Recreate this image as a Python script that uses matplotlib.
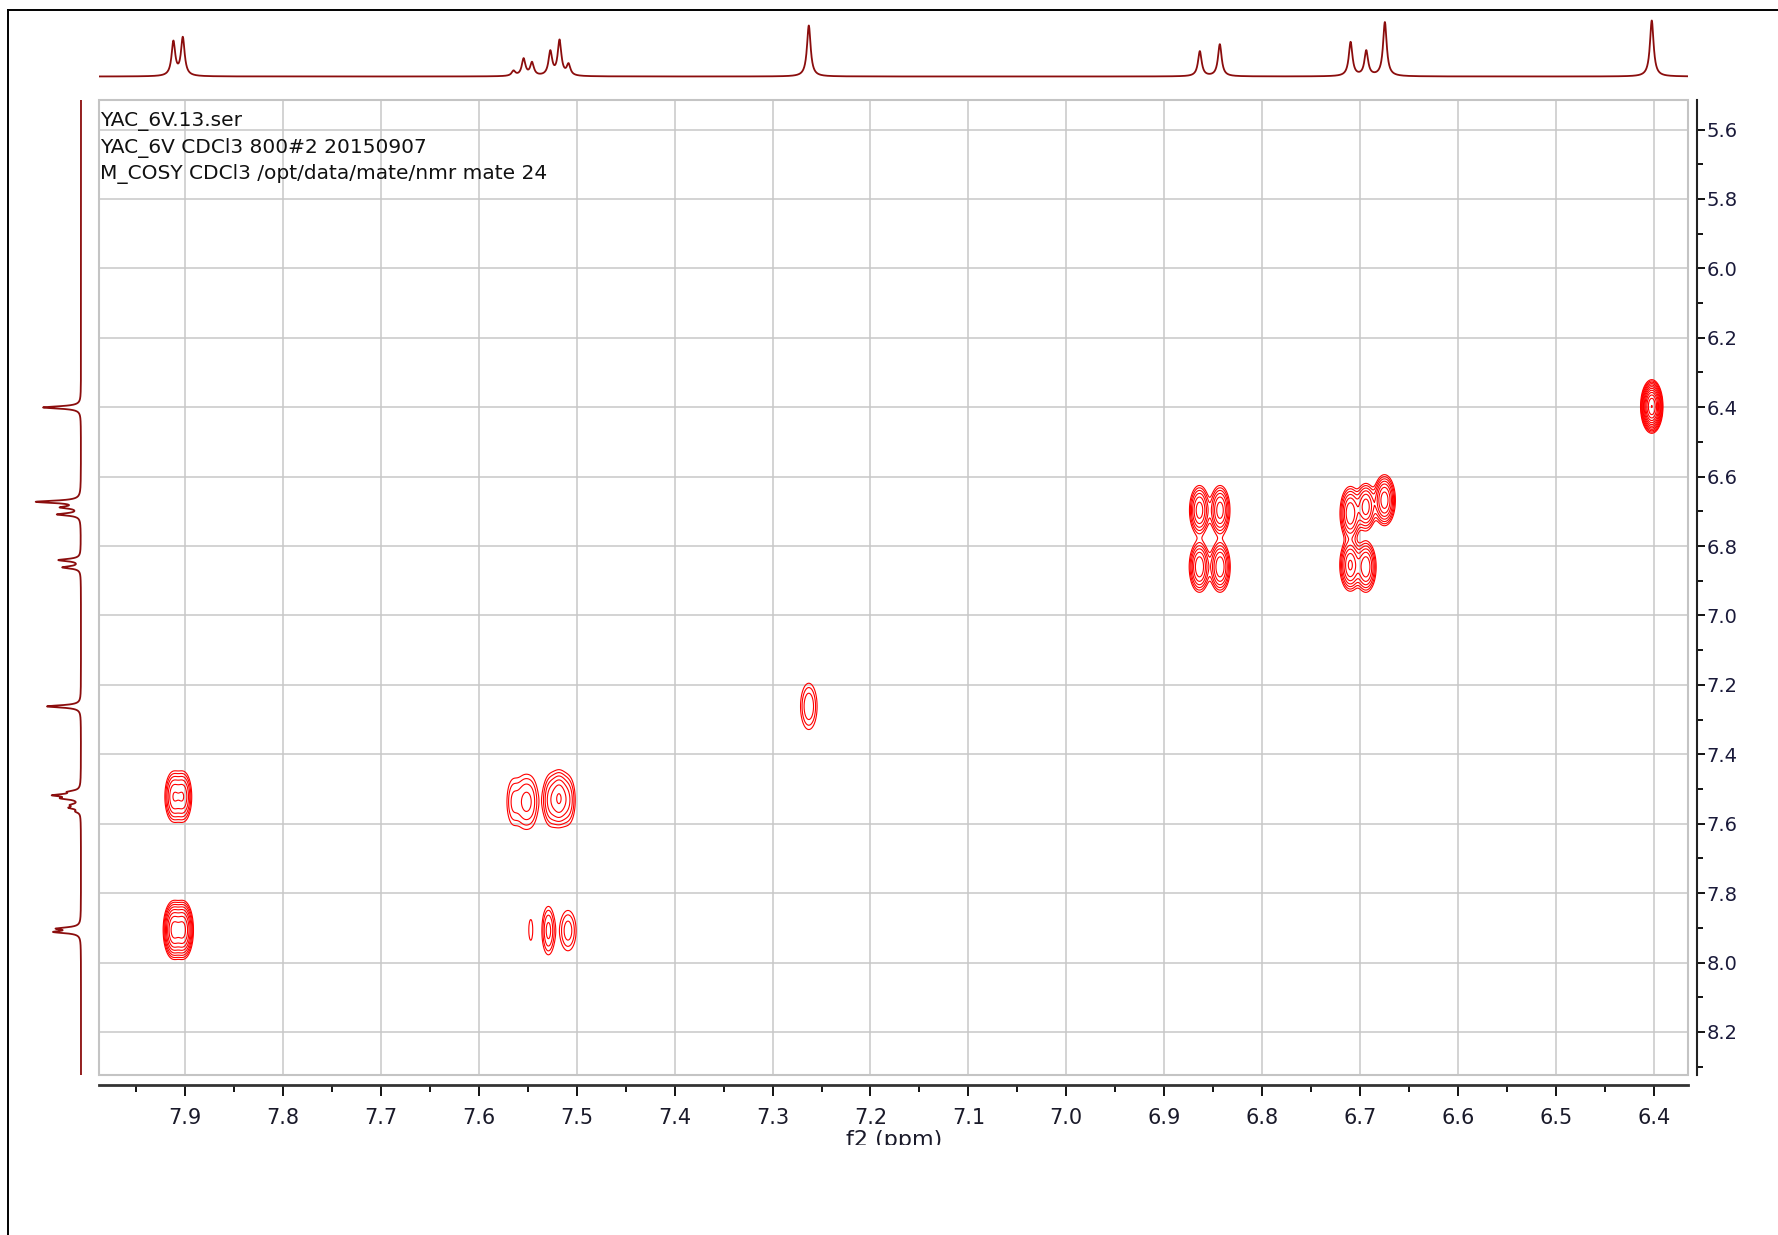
import numpy as np
import matplotlib
matplotlib.use('Agg')
import matplotlib.pyplot as plt
from matplotlib import font_manager
from matplotlib.lines import Line2D
from matplotlib.patches import Rectangle
from matplotlib.ticker import MultipleLocator, FormatStrFormatter
from matplotlib.transforms import Bbox, TransformedBbox

# 1D trace on top (f2): peak position (ppm) and height
top_ppm = [7.912, 7.9024, 7.5646, 7.5543, 7.5457, 7.527, 7.5176, 7.5084,
           7.263, 6.8636, 6.8432, 6.7096, 6.6936, 6.6746, 6.402]
top_height = [34, 38, 5, 17, 13, 24, 35, 11, 51, 25, 32, 34, 25, 54, 56]

# 1D trace on the left (f1)
left_ppm = [6.4007, 6.6726, 6.6887, 6.7089, 6.8405, 6.8615, 7.262,
            7.508, 7.518, 7.527, 7.546, 7.554, 7.565, 7.902, 7.912]
left_height = [38, 44, 18, 23, 22, 18, 34, 10, 25, 16, 8, 10, 4, 22, 25]

# COSY peaks: f2, f1, intensity, widths
cp_f2 = [7.912, 7.902, 7.912, 7.902,
         7.565, 7.554, 7.546, 7.527, 7.518, 7.509,
         7.529, 7.509, 7.547,
         7.263, 6.402,
         6.864, 6.843, 6.864, 6.843,
         6.710, 6.694, 6.710, 6.694, 6.675]
cp_f1 = [7.906, 7.906, 7.522, 7.522,
         7.537, 7.537, 7.537, 7.532, 7.527, 7.532,
         7.908, 7.908, 7.906,
         7.262, 6.398,
         6.697, 6.697, 6.860, 6.860,
         6.706, 6.687, 6.855, 6.860, 6.668]
cp_amp = [15, 15, 6, 6,
          2.2, 2.6, 2.2, 3.5, 5.5, 3.0,
          3.5, 2.6, 1.25,
          3.0, 60,
          8, 8, 9, 9,
          9, 8, 10, 9, 12]
cp_w2 = [0.0045, 0.0045, 0.0046, 0.0046,
         0.005, 0.005, 0.005, 0.005, 0.0045, 0.005,
         0.0042, 0.006, 0.003,
         0.0057, 0.004,
         0.005, 0.005, 0.005, 0.005,
         0.005, 0.005, 0.005, 0.005, 0.005]
cp_w1 = [0.036, 0.036, 0.038, 0.038,
         0.05, 0.05, 0.05, 0.046, 0.042, 0.046,
         0.044, 0.042, 0.045,
         0.045, 0.027,
         0.035, 0.035, 0.035, 0.035,
         0.037, 0.033, 0.035, 0.035, 0.033]

header = ["YAC_6V.13.ser",
          "YAC_6V CDCl3 800#2 20150907",
          "M_COSY CDCl3 /opt/data/mate/nmr mate 24"]

x_lim = (7.988, 6.365)
y_lim = (8.324, 5.515)

names = {f.name for f in font_manager.fontManager.ttflist}
narrow = 'Liberation Sans Narrow' if 'Liberation Sans Narrow' in names else 'DejaVu Sans'

trace_col = '#8b0d0d'
W, H = 1778, 1235


def box(x0, y0, x1, y1):
    return [x0 / W, 1 - y1 / H, (x1 - x0) / W, (y1 - y0) / H]


def lorentz(grid, pos, hts, fwhm):
    out = np.zeros_like(grid)
    for p, h in zip(pos, hts):
        out += h / (1 + ((grid - p) / (fwhm / 2)) ** 2)
    return out


fig = plt.figure(figsize=(W / 100, H / 100), dpi=100)

ax = fig.add_axes(box(99, 100, 1688, 1075))
ax_top = fig.add_axes(box(99, 15, 1688, 80))
ax_left = fig.add_axes(box(25, 100, 85, 1075))

# contour map
f2 = np.linspace(x_lim[1], x_lim[0], 2200)
f1 = np.linspace(y_lim[1], y_lim[0], 1100)
Z = np.zeros((f1.size, f2.size))
for a, b, amp, s2, s1 in zip(cp_f2, cp_f1, cp_amp, cp_w2, cp_w1):
    gx = np.exp(-0.5 * ((f2 - a) / s2) ** 2)
    gy = np.exp(-0.5 * ((f1 - b) / s1) ** 2)
    Z += amp * np.outer(gy, gx)
levels = 1.0 * 1.45 ** np.arange(14)
ax.contour(f2, f1, Z, levels=levels, colors='#ff0000', linewidths=0.8, zorder=3)

ax.set_xlim(*x_lim)
ax.set_ylim(*y_lim)
ax.xaxis.set_major_locator(MultipleLocator(0.1))
ax.xaxis.set_minor_locator(MultipleLocator(0.05))
ax.yaxis.set_major_locator(MultipleLocator(0.2))
ax.yaxis.set_minor_locator(MultipleLocator(0.1))
ax.xaxis.set_major_formatter(FormatStrFormatter('%.1f'))
ax.yaxis.set_major_formatter(FormatStrFormatter('%.1f'))
ax.yaxis.tick_right()
ax.grid(True, which='major', color='#c8c8c8', lw=1.1, zorder=0)
ax.set_axisbelow(True)

for s in ['top', 'left']:
    ax.spines[s].set_visible(False)
ax.spines['bottom'].set_position(('outward', 7))
ax.spines['right'].set_position(('outward', 6.5))
ax.spines['bottom'].set_linewidth(2.0)
ax.spines['bottom'].set_color('#333333')
ax.spines['right'].set_linewidth(1.5)
ax.spines['right'].set_color('#222222')
ax.add_patch(Rectangle((0, 0), 1, 1, transform=ax.transAxes, fill=False,
                       edgecolor='#c4c4c4', lw=1.5, clip_on=False, zorder=1))

ax.tick_params(axis='x', which='major', direction='out', length=8, width=1.3,
               pad=9, labelsize=15, labelcolor='#1a1a2a')
ax.tick_params(axis='x', which='minor', direction='out', length=5, width=1.3)
ax.tick_params(axis='y', which='major', direction='out', length=6, width=1.3,
               pad=1, labelsize=14, labelcolor='#1a1a3a')
ax.tick_params(axis='y', which='minor', direction='out', length=4, width=1.3)
for lab in ax.get_xticklabels():
    lab.set_family(narrow)
for lab in ax.get_yticklabels():
    lab.set_family('DejaVu Sans')

# top trace
xs = np.linspace(x_lim[1], x_lim[0], 9000)
ax_top.plot(xs, lorentz(xs, top_ppm, top_height, 0.0045), color=trace_col, lw=1.3)
ax_top.set_xlim(*x_lim)
ax_top.set_ylim(-3.5, 61.5)
ax_top.axis('off')

# left trace
ys = np.linspace(y_lim[1], y_lim[0], 9000)
ax_left.plot(-lorentz(ys, left_ppm, left_height, 0.008), ys, color=trace_col, lw=1.3)
ax_left.set_ylim(*y_lim)
ax_left.set_xlim(-56, 4)
ax_left.axis('off')

# header text
for i, line in enumerate(header):
    fig.text(100 / W, 1 - (126 + 26.5 * i) / H, line, fontsize=14.5,
             family='DejaVu Sans', color='#111111', va='baseline', ha='left')

t = fig.text(894 / W, 1 - 1146 / H, 'f2 (ppm)', fontsize=16, family=narrow,
             color='#1a1a2a', ha='center', va='baseline')
t.set_clip_box(TransformedBbox(Bbox([[0, 90 / H], [1, 1]]), fig.transFigure))
t.set_clip_on(True)

# outer frame
fig.add_artist(Line2D([8 / W, 1], [1 - 10 / H, 1 - 10 / H], transform=fig.transFigure,
                      color='black', lw=1.4))
fig.add_artist(Line2D([8 / W, 8 / W], [0, 1 - 10 / H], transform=fig.transFigure,
                      color='black', lw=1.4))

fig.savefig('out.png', dpi=100, facecolor='white')
